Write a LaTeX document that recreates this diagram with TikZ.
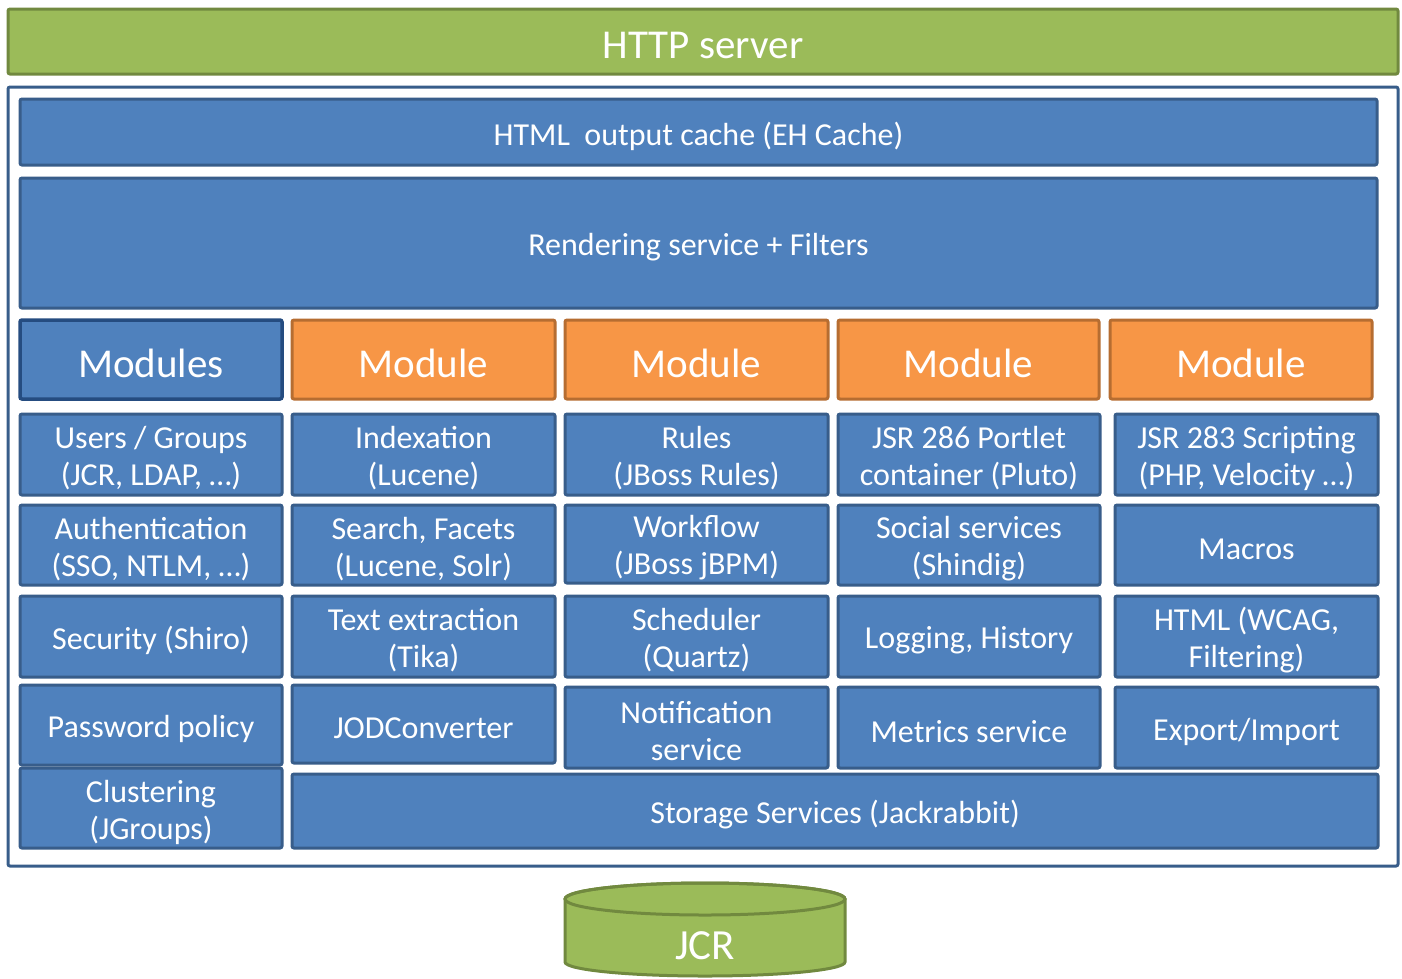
\documentclass[tikz,border=0pt]{standalone}
\usepackage{fontspec}
\setmainfont{Carlito}
\definecolor{bfill}{HTML}{4F81BD}
\definecolor{bline}{HTML}{385D8A}
\definecolor{bdark}{HTML}{254C80}
\definecolor{gfill}{HTML}{9BBB59}
\definecolor{gline}{HTML}{71893F}
\definecolor{ofill}{HTML}{F79646}
\definecolor{oline}{HTML}{B66D31}
\tikzset{
  base/.style={rectangle, rounded corners=2pt, line width=3pt, inner sep=0pt},
  txt/.style={text=white, align=center, inner sep=0pt},
  cell/.style={base, fill=bfill, draw=bline},
  celltxt/.style={txt, font=\fontsize{32}{37}\selectfont},
  modhead/.style={base, fill=ofill, draw=oline},
  modsblue/.style={base, fill=bfill, draw=bdark, line width=3.5pt},
  bigtxt/.style={txt, font=\fontsize{41}{46}\selectfont},
  greenbar/.style={base, fill=gfill, draw=gline},
  frame/.style={rectangle, rounded corners=2pt, line width=3pt, draw=bline, fill=white, inner sep=0pt},
}
% #1 box style, #2 text style, #3 name, #4 centre, #5 width, #6 height, #7 text
\newcommand\archbox[7]{%
  \node[#1, minimum width=#5pt, minimum height=#6pt] (#3) at (#4) {};
  \node[#2] (#3-t) at ([yshift=-4pt]#3.center) {#7};
}
\begin{document}
\begin{tikzpicture}[x=1pt,y=-1pt]
\useasboundingbox (0,0) rectangle (1402,978);
% HTTP server
\archbox{greenbar}{bigtxt}{http}{703,41.5}{1390}{65}{HTTP server}
% outer frame
\node[frame, minimum width=1390pt, minimum height=779pt] (outer) at (703,476.5) {};
% top bars
\archbox{cell}{celltxt}{cache}{698.5,132}{1357}{66}{HTML\ \ output cache (EH Cache)}
\archbox{cell}{celltxt}{render}{698.5,243}{1357}{130}{Rendering service + Filters}
% module header row
\archbox{modsblue}{bigtxt}{mods}{151,359.5}{262}{79}{Modules}
\archbox{modhead}{bigtxt}{m2}{423.5,359.5}{263}{79}{Module}
\archbox{modhead}{bigtxt}{m3}{696.5,359.5}{263}{79}{Module}
\archbox{modhead}{bigtxt}{m4}{968.5,359.5}{261}{79}{Module}
\archbox{modhead}{bigtxt}{m5}{1241,359.5}{262}{79}{Module}
% row 1
\archbox{cell}{celltxt}{r1c1}{151,454.5}{262}{81}{Users / Groups\\(JCR, LDAP, …)}
\archbox{cell}{celltxt}{r1c2}{423.5,454.5}{263}{81}{Indexation\\(Lucene)}
\archbox{cell}{celltxt}{r1c3}{696.5,454.5}{263}{81}{Rules\\(JBoss Rules)}
\archbox{cell}{celltxt}{r1c4}{969,454.5}{262}{81}{JSR 286 Portlet\\container (Pluto)}
\archbox{cell}{celltxt}{r1c5}{1246.5,454.5}{263}{81}{JSR 283 Scripting\\(PHP, Velocity …)}
% row 2
\archbox{cell}{celltxt}{r2c1}{151,545}{262}{80}{Authentication\\(SSO, NTLM, …)}
\archbox{cell}{celltxt}{r2c2}{423.5,545}{263}{80}{Search, Facets\\(Lucene, Solr)}
\archbox{cell}{celltxt}{r2c3}{696.5,544}{263}{78}{Workflow\\(JBoss jBPM)}
\archbox{cell}{celltxt}{r2c4}{969,545}{262}{80}{Social services\\(Shindig)}
\archbox{cell}{celltxt}{r2c5}{1246.5,545}{263}{80}{Macros}
% row 3
\archbox{cell}{celltxt}{r3c1}{151,636.5}{262}{81}{Security (Shiro)}
\archbox{cell}{celltxt}{r3c2}{423.5,636.5}{263}{81}{Text extraction\\(Tika)}
\archbox{cell}{celltxt}{r3c3}{696.5,636.5}{263}{81}{Scheduler\\(Quartz)}
\archbox{cell}{celltxt}{r3c4}{969,636.5}{262}{81}{Logging, History}
\archbox{cell}{celltxt}{r3c5}{1246.5,636.5}{263}{81}{HTML (WCAG,\\Filtering)}
% row 4
\archbox{cell}{celltxt}{r4c1}{151,725}{262}{80}{Password policy}
\archbox{cell}{celltxt}{r4c2}{423.5,724}{263}{78}{JODConverter}
\archbox{cell}{celltxt}{r4c3}{696.5,727.5}{263}{81}{Notification\\service}
\archbox{cell}{celltxt}{r4c4}{969,727.5}{262}{81}{Metrics service}
\archbox{cell}{celltxt}{r4c5}{1246.5,727.5}{263}{81}{Export/Import}
% row 5
\archbox{cell}{celltxt}{clus}{151,808}{262}{80}{Clustering\\(JGroups)}
\archbox{cell}{celltxt}{store}{835,811}{1086}{74}{Storage Services (Jackrabbit)}
% JCR cylinder
\coordinate (jcrtop) at (705,899);
\draw[fill=gfill, draw=gline, line width=3pt] (565,899) -- (565,962) arc[start angle=180, end angle=360, x radius=140pt, y radius=14pt] -- (845,899) arc[start angle=0, end angle=180, x radius=140pt, y radius=16pt] -- cycle;
\draw[draw=gline, line width=3pt] (jcrtop) ellipse[x radius=140pt, y radius=16pt];
\node[txt, font=\fontsize{43}{48}\selectfont] (jcr) at (705,946) {JCR};
\end{tikzpicture}
\end{document}
